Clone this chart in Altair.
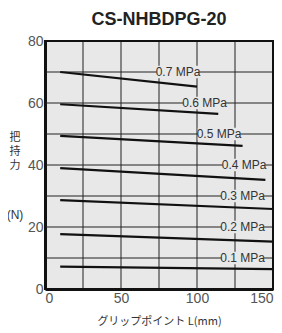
import altair as alt
import pandas as pd

pressures = ["0.1 MPa", "0.2 MPa", "0.3 MPa", "0.4 MPa", "0.5 MPa", "0.6 MPa", "0.7 MPa"]
x_start = [10, 10, 10, 10, 10, 10, 10]
x_end = [150, 150, 150, 145, 130, 114, 100]
y_start = [7.2, 17.7, 28.7, 39.0, 49.4, 59.6, 70.0]
y_end = [6.4, 15.3, 25.8, 35.2, 46.2, 56.5, 65.3]
label_x = [130, 130, 130, 131, 114.5, 105, 87.5]
label_y = [10, 20, 30, 40, 50, 60, 70]
ytitle_chars = ["把", "持", "力"]

rows = []
for p, xs_, xe, ys_, ye in zip(pressures, x_start, x_end, y_start, y_end):
    rows.append({"p": p, "x": xs_, "y": ys_})
    rows.append({"p": p, "x": xe, "y": ye})
lines_df = pd.DataFrame(rows)
labels_df = pd.DataFrame({"p": pressures, "x": label_x, "y": label_y})

FONT = "Liberation Sans"
xs = alt.Scale(domain=[0, 150], nice=False)
ys = alt.Scale(domain=[0, 80], nice=False)

base_x = alt.X("x:Q", scale=xs,
               axis=alt.Axis(values=[0, 50, 100, 150], grid=False,
                             title="グリップポイント  L(mm)",
                             titleFont="Noto Sans CJK JP", titleFontSize=11, titleFontWeight="normal",
                             titleColor="#333", titlePadding=10,
                             labelFont=FONT, labelFontSize=14, labelColor="#555",
                             labelPadding=2, ticks=False, domainColor="#111", domainWidth=3))
base_y = alt.Y("y:Q", scale=ys,
               axis=alt.Axis(values=[0, 20, 40, 60, 80], title=None, grid=False,
                             labelFont=FONT, labelFontSize=14, labelColor="#555",
                             labelPadding=2, ticks=False, domainColor="#111", domainWidth=3))

gx = pd.DataFrame({"x": [25, 50, 75, 100, 125]})
gy = pd.DataFrame({"y": [10, 20, 30, 40, 50, 60, 70]})
vgrid = alt.Chart(gx).mark_rule(color="#222", strokeWidth=1).encode(x=alt.X("x:Q", scale=xs))
hgrid = alt.Chart(gy).mark_rule(color="#222", strokeWidth=1).encode(y=alt.Y("y:Q", scale=ys))

lines = alt.Chart(lines_df).mark_line(color="#111", strokeWidth=2.2).encode(
    x=base_x, y=base_y, detail="p:N")

bg = alt.Chart(labels_df).transform_calculate(
    x1="datum.x - 14", x2="datum.x + 14", y1="datum.y - 2", y2="datum.y + 2"
).mark_rect(color="#e8e8e8").encode(
    x=alt.X("x1:Q", scale=xs), x2="x2:Q", y=alt.Y("y1:Q", scale=ys), y2="y2:Q")

txt = alt.Chart(labels_df).mark_text(font=FONT, fontSize=12, color="#333").encode(
    x=alt.X("x:Q", scale=xs), y=alt.Y("y:Q", scale=ys), text="p:N")

one = pd.DataFrame({"a": [0]})
ylabs = [
    alt.Chart(one).mark_text(font="Noto Sans CJK JP", fontSize=11, color="#333",
                             baseline="middle").encode(
        x=alt.value(-30), y=alt.value(97 + 14 * i), text=alt.value(ch))
    for i, ch in enumerate(ytitle_chars)
]
nlab = alt.Chart(one).mark_text(font=FONT, fontSize=12, color="#333").encode(
    x=alt.value(-30), y=alt.value(174), text=alt.value("(N)"))

frame = alt.Chart(one).mark_rect(
    fill="transparent", stroke="#111", strokeWidth=2
).encode(x=alt.value(0), x2=alt.value(228), y=alt.value(0), y2=alt.value(248))

chart = alt.layer(vgrid, hgrid, lines, bg, txt, frame, *ylabs, nlab).properties(
    width=228, height=248,
    title=alt.Title("CS-NHBDPG-20", font=FONT, fontSize=18, fontWeight="bold",
                    color="#222", anchor="middle", offset=5),
    autosize=alt.AutoSizeParams(type="none"),
    padding={"left": 37, "top": 33, "right": 1, "bottom": 44},
).configure_view(fill="#e8e8e8", stroke=None)

chart.save("out.html", embed_options={"renderer": "svg", "actions": False})
